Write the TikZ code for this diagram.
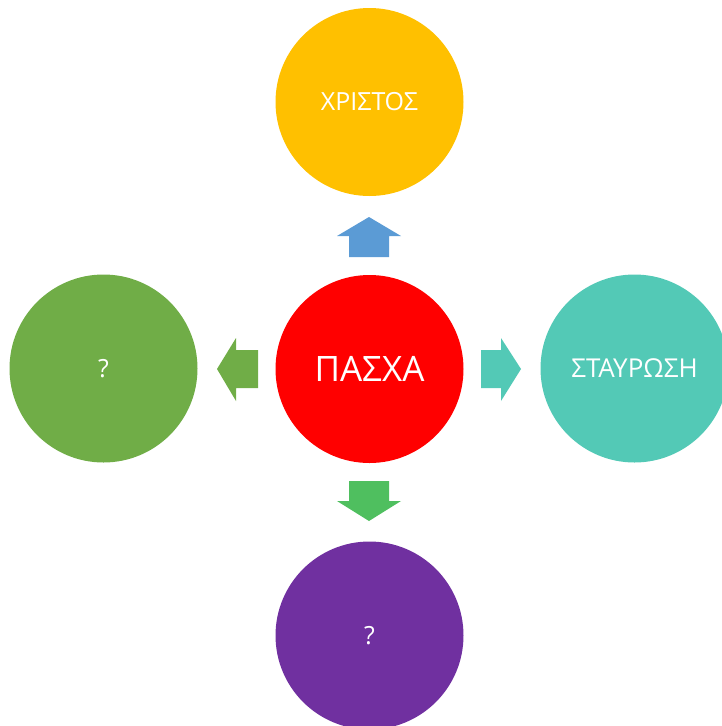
\documentclass[tikz,border=0pt]{standalone}
\usepackage{fontspec}
\setmainfont{Open Sans}
\definecolor{cyellow}{HTML}{FFC000}
\definecolor{cred}{HTML}{FF0000}
\definecolor{cgreen}{HTML}{70AD47}
\definecolor{cteal}{HTML}{53C9B6}
\definecolor{cpurple}{HTML}{7030A0}
\definecolor{cblue}{HTML}{5B9BD5}
\definecolor{cgreenb}{HTML}{4FBF5F}
\begin{document}
\begin{tikzpicture}[x=1pt,y=-1pt,
  bubble/.style={circle,minimum size=188pt,inner sep=0pt,text=white,font=\fontsize{25}{28}\selectfont}]
\useasboundingbox (0,0) rectangle (722,726);
\begin{scope}
\clip (0,0) rectangle (722,726);
\node[bubble,fill=cred,font=\fontsize{35}{40}\selectfont] (c) at (369.5,369) {ΠΑΣΧΑ};
\node[bubble,fill=cyellow] (t) at (369.5,102) {ΧΡΙΣΤΟΣ};
\node[bubble,fill=cgreen] (l) at (103.5,368.5) {?};
\node[bubble,fill=cteal,font=\fontsize{26}{28}\selectfont] (r) at (634.5,368.5) {ΣΤΑΥΡΩΣΗ};
\node[bubble,fill=cpurple] (b) at (369.5,635.5) {?};
% block arrows
\fill[cblue] (369,217) -- (401,236) -- (389,236) -- (389,257) -- (349,257) -- (349,236) -- (337,236) -- cycle;
\fill[cgreen] (217,369) -- (236,338) -- (236,350) -- (258,350) -- (258,388) -- (236,388) -- (236,401) -- cycle;
\fill[cteal] (521,369) -- (501,338) -- (501,350) -- (481,350) -- (481,388) -- (501,388) -- (501,401) -- cycle;
\fill[cgreenb] (369,521) -- (401,501) -- (389,501) -- (389,481) -- (349,481) -- (349,501) -- (337,501) -- cycle;
\end{scope}
\end{tikzpicture}
\end{document}
